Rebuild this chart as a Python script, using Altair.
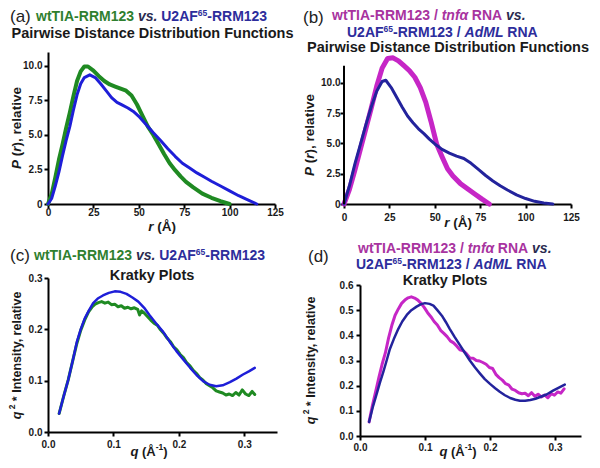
import altair as alt
import pandas as pd

# ---------------- data ----------------
# (a) P(r) curves
r_a_green = [0, 2, 4, 6, 8, 10, 12, 14, 16, 18, 20, 22, 25, 28, 31, 34, 37, 40, 43, 46, 49, 52, 55, 58, 61, 64, 67, 70, 73, 76, 80, 85, 90, 95, 100]
p_a_green = [0, 0.7, 1.9, 3.2, 4.3, 5.5, 6.6, 7.8, 8.9, 9.6, 9.95, 9.95, 9.65, 9.25, 8.9, 8.65, 8.5, 8.35, 8.2, 7.85, 7.2, 6.4, 5.6, 5.0, 4.3, 3.6, 2.95, 2.45, 2.0, 1.6, 1.2, 0.75, 0.45, 0.2, 0]
r_a_blue = [0, 2, 4, 6, 8, 10, 12, 14, 16, 18, 20, 23, 26, 29, 32, 35, 38, 41, 44, 47, 50, 54, 58, 62, 66, 70, 74, 78, 82, 86, 90, 95, 100, 105, 110, 115]
p_a_blue = [0, 0.4, 1.3, 2.3, 3.5, 4.6, 5.6, 6.8, 7.9, 8.7, 9.15, 9.35, 9.15, 8.7, 8.2, 7.7, 7.35, 7.15, 6.95, 6.7, 6.35, 5.75, 5.15, 4.6, 4.0, 3.45, 2.95, 2.6, 2.25, 1.95, 1.65, 1.3, 0.95, 0.6, 0.3, 0]

# (b) P(r) curves with RNA
r_b_mag = [0, 3, 6, 9, 12, 15, 18, 21, 24, 27, 30, 33, 36, 39, 42, 45, 48, 51, 54, 57, 60, 64, 68, 72, 76, 80]
p_b_mag = [0, 1.2, 2.8, 4.5, 6.2, 7.9, 9.7, 11.2, 12.0, 12.05, 11.8, 11.4, 11.0, 10.45, 9.6, 8.4, 6.75, 4.95, 3.9, 2.9, 2.3, 1.7, 1.25, 0.82, 0.4, 0]
r_b_blue = [0, 3, 6, 9, 12, 15, 18, 21, 23, 26, 29, 32, 35, 38, 41, 44, 47, 50, 54, 58, 62, 66, 70, 74, 78, 82, 86, 90, 95, 100, 105, 110, 115]
p_b_blue = [0, 1.5, 3.3, 4.9, 6.5, 8.0, 9.3, 10.1, 10.2, 9.6, 8.8, 8.0, 7.25, 6.7, 6.2, 5.8, 5.35, 4.95, 4.5, 4.2, 3.95, 3.75, 3.35, 2.85, 2.35, 1.9, 1.5, 1.15, 0.75, 0.45, 0.22, 0.08, 0]

# (c) Kratky curves
q_c_green = [0.017, 0.024, 0.031, 0.038, 0.044, 0.05, 0.056, 0.062, 0.067, 0.072, 0.077, 0.082, 0.087, 0.092, 0.097, 0.102, 0.107, 0.112, 0.117, 0.122,
             0.127, 0.132, 0.137, 0.14, 0.143, 0.147, 0.152, 0.157, 0.162, 0.167, 0.172, 0.177, 0.182, 0.187, 0.192, 0.197, 0.202, 0.207, 0.212, 0.217,
             0.222, 0.227, 0.232, 0.237, 0.242, 0.247, 0.252, 0.257, 0.262, 0.267, 0.272, 0.277, 0.282, 0.287, 0.292, 0.297, 0.302, 0.307, 0.312, 0.316]
i_c_green = [0.036, 0.07, 0.102, 0.14, 0.172, 0.198, 0.218, 0.234, 0.243, 0.249, 0.252, 0.254, 0.251, 0.253, 0.248, 0.249, 0.244, 0.246, 0.241, 0.243,
             0.24, 0.242, 0.239, 0.228, 0.236, 0.232, 0.225, 0.218, 0.212, 0.208, 0.199, 0.192, 0.183, 0.176, 0.166, 0.16, 0.151, 0.145, 0.135, 0.129,
             0.12, 0.114, 0.106, 0.101, 0.094, 0.09, 0.086, 0.08, 0.078, 0.076, 0.072, 0.074, 0.071, 0.077, 0.072, 0.082, 0.074, 0.071, 0.079, 0.073]
q_c_blue = [0.017, 0.024, 0.031, 0.038, 0.044, 0.05, 0.056, 0.063, 0.069, 0.076, 0.084, 0.093, 0.102, 0.111, 0.12, 0.129, 0.138, 0.147, 0.155, 0.165,
            0.176, 0.186, 0.196, 0.207, 0.217, 0.227, 0.237, 0.247, 0.257, 0.267, 0.278, 0.288, 0.298, 0.307, 0.316]
i_c_blue = [0.036, 0.07, 0.102, 0.14, 0.175, 0.2, 0.221, 0.238, 0.251, 0.26, 0.266, 0.271, 0.274, 0.273, 0.269, 0.262, 0.254, 0.242, 0.228, 0.212,
            0.195, 0.176, 0.158, 0.141, 0.1255, 0.111, 0.099, 0.092, 0.089, 0.091, 0.097, 0.104, 0.112, 0.118, 0.125]

# (d) Kratky curves with RNA
q_d_mag = [0.014, 0.019, 0.024, 0.029, 0.034, 0.039, 0.044, 0.049, 0.054, 0.059, 0.064, 0.069, 0.074, 0.079, 0.084, 0.089, 0.094, 0.099, 0.104, 0.109,
           0.114, 0.119, 0.124, 0.129, 0.134, 0.139, 0.144, 0.149, 0.154, 0.159, 0.164, 0.169, 0.174, 0.179, 0.184, 0.189, 0.194, 0.199, 0.204, 0.209,
           0.214, 0.219, 0.224, 0.229, 0.234, 0.239, 0.244, 0.249, 0.254, 0.259, 0.264, 0.269, 0.274, 0.279, 0.284, 0.289, 0.294, 0.299, 0.304, 0.309, 0.314]
i_d_mag = [0.056, 0.12, 0.175, 0.232, 0.285, 0.33, 0.39, 0.44, 0.48, 0.505, 0.527, 0.54, 0.549, 0.553, 0.548, 0.54, 0.527, 0.51, 0.49, 0.474,
           0.455, 0.441, 0.42, 0.408, 0.395, 0.378, 0.37, 0.357, 0.342, 0.338, 0.326, 0.31, 0.309, 0.3, 0.298, 0.292, 0.285, 0.272, 0.268, 0.245,
           0.232, 0.222, 0.208, 0.202, 0.186, 0.181, 0.172, 0.168, 0.17, 0.16, 0.172, 0.158, 0.166, 0.155, 0.163, 0.152, 0.168, 0.162, 0.175, 0.17, 0.187]
q_d_blue = [0.014, 0.02, 0.026, 0.031, 0.036, 0.041, 0.046, 0.052, 0.059, 0.065, 0.072, 0.079, 0.087, 0.094, 0.1, 0.107, 0.113, 0.119, 0.126, 0.132,
            0.138, 0.146, 0.154, 0.162, 0.169, 0.177, 0.185, 0.192, 0.2, 0.208, 0.215, 0.223, 0.231, 0.239, 0.246, 0.254, 0.262, 0.27, 0.277, 0.287,
            0.297, 0.306, 0.315]
i_d_blue = [0.056, 0.118, 0.17, 0.215, 0.256, 0.3, 0.346, 0.385, 0.426, 0.455, 0.481, 0.5, 0.514, 0.524, 0.528, 0.525, 0.518, 0.5, 0.478, 0.453,
            0.426, 0.392, 0.36, 0.328, 0.3, 0.272, 0.247, 0.226, 0.207, 0.19, 0.176, 0.162, 0.151, 0.144, 0.14, 0.14, 0.143, 0.148, 0.155, 0.165,
            0.18, 0.192, 0.204]

pr_ticks = [0, 25, 50, 75, 100, 125]
p_ticks = [0, 2.5, 5, 7.5, 10]
q_ticks = [0, 0.1, 0.2, 0.3]
kc_ticks = [0, 0.1, 0.2, 0.3]
kd_ticks = [0, 0.1, 0.2, 0.3, 0.4, 0.5, 0.6]

# ---------------- styling ----------------
FONT = "Liberation Sans"
GREEN = "#1f8a22"
BLUE_A = "#1e1ed8"
BLUE_B = "#23239c"
MAG = "#c626c6"
T_GREEN = "#2f7f2f"
T_BLUE = "#2d2d9c"
T_MAG = "#a8339f"
T_VS = "#2b2b50"
INK = "#1a1a1a"

ONE = pd.DataFrame({"k": [0]})

WID = {' ': 278, '(': 333, ')': 333, '-': 333, '.': 278, '/': 278, ',': 278, '*': 389,
       'A': 722, 'F': 611, 'I': 278, 'L': 611, 'M': 833, 'N': 722, 'R': 722, 'T': 611, 'U': 722,
       'P': 667, 'Å': 722, 'd': 611, 'f': 333, 'n': 611, 's': 556, 't': 333, 'v': 556, 'w': 778,
       'r': 389, 'e': 556, 'l': 278, 'a': 556, 'i': 278, 'q': 611, 'y': 556, 'α': 600}


def twidth(s, size):
    return sum(WID.get(c, 556) for c in s) * size / 1000.0


def text_at(txt, x, y, color=INK, size=14, weight="bold", italic=False, align="left",
            dy=0, angle=0):
    return alt.Chart(ONE).mark_text(
        text=txt, color=color, font=FONT, fontSize=size, fontWeight=weight,
        fontStyle="italic" if italic else "normal", align=align, baseline="middle",
        dy=dy, angle=angle
    ).encode(x=alt.value(x), y=alt.value(y))


def seg_fields(seg):
    txt, color = seg[0], seg[1]
    italic = seg[2] if len(seg) > 2 else False
    size = seg[3] if len(seg) > 3 else 14
    shift = seg[4] if len(seg) > 4 else 0
    return txt, color, italic, size, shift


def text_line(segments, x0, y):
    """Horizontal run of styled pieces starting at x0 (left)."""
    out, x = [], x0
    for seg in segments:
        txt, color, italic, size, shift = seg_fields(seg)
        lead = len(txt) - len(txt.lstrip(' '))
        core = txt.strip(' ')
        out.append(text_at(core, x + twidth(' ' * lead, size), y, color=color, size=size,
                           italic=italic, dy=-shift))
        x += twidth(txt, size)
    return out


def text_line_centered(segments, xc, y):
    total = sum(twidth(seg_fields(s)[0], seg_fields(s)[3]) for s in segments)
    return text_line(segments, xc - total / 2.0, y)


def text_vertical(segments, x, yc):
    """Run of styled pieces rotated 270 degrees, centred at yc."""
    total = sum(twidth(seg_fields(s)[0], seg_fields(s)[3]) for s in segments)
    out, y = [], yc + total / 2.0
    for seg in segments:
        txt, color, italic, size, shift = seg_fields(seg)
        lead = len(txt) - len(txt.lstrip(' '))
        core = txt.strip(' ')
        out.append(text_at(core, x, y - twidth(' ' * lead, size), color=color, size=size,
                           italic=italic, dy=-shift, angle=270))
        y -= twidth(txt, size)
    return out


def anchor(x, y, align, baseline):
    return alt.Chart(ONE).mark_text(text=".", fontSize=1, opacity=0, align=align, baseline=baseline
                                    ).encode(x=alt.value(x), y=alt.value(y))


AX = dict(grid=False, domainColor="black", domainWidth=2, tickColor="black", tickWidth=2, tickSize=4,
          labelFont=FONT, labelFontWeight="bold", labelFontSize=10, labelColor=INK,
          labelFlush=False, labelOverlap=False, title=None)


def axis(values, lp, fmt=None, domain=True, expr=None, count=None):
    kw = dict(AX)
    kw.update(values=values, labelPadding=lp, domain=domain)
    if fmt:
        kw["format"] = fmt
    if expr:
        kw["labelExpr"] = expr
    if count:
        kw["tickCount"] = count
    return alt.Axis(**kw)


def lines(series, xdom, ydom, xax, yax):
    out = []
    for xs, ys, color, sw in series:
        df = pd.DataFrame({"x": xs, "y": ys})
        out.append(alt.Chart(df).mark_line(color=color, strokeWidth=sw, strokeJoin="round", strokeCap="round").encode(
            x=alt.X("x:Q", scale=alt.Scale(domain=xdom, nice=False, zero=False), axis=xax),
            y=alt.Y("y:Q", scale=alt.Scale(domain=ydom, nice=False, zero=False), axis=yax),
            order=alt.Order("x:Q"),
        ))
    return out


# "0" for zero, one decimal otherwise; a trailing no-break space keeps every label distinct text
NB = "\u00a0"
PEXPR = "datum.value == 0 ? '0" + NB + "' : format(datum.value, '.1f') + '" + NB + "'"

PR_TITLE = [("P", INK, True, 13.5), (" (", INK, False, 13.5), ("r", INK, True, 13.5), ("), relative", INK, False, 13.5)]
R_TITLE = [("r", INK, True, 13.5), (" (Å)", INK, False, 13.5)]
Q_TITLE = [("q", INK, True, 13), (" (Å", INK, False, 13), ("-1", INK, False, 8.5, 5), (")", INK, False, 13)]
K_TITLE = [("q", INK, True, 12.5), (" 2", INK, False, 8.5, 5), (" * Intensity, relative", INK, False, 12.5)]

LINE_PLAIN = [("wtTIA-RRM123", T_GREEN), (" vs. ", T_VS, True), ("U2AF", T_BLUE),
              ("65", T_BLUE, False, 8.5, 4.5), ("-RRM123", T_BLUE)]
LINE_RNA1 = [("wtTIA-RRM123 / ", T_MAG), ("tnfα", T_MAG, True), (" RNA ", T_MAG), ("vs.", T_VS, True)]
LINE_RNA2 = [("U2AF", T_BLUE), ("65", T_BLUE, False, 8.5, 4.5), ("-RRM123 / ", T_BLUE),
             ("AdML", T_BLUE, True), (" RNA", T_BLUE)]

# ---------------- panel (a) ----------------
a_layers = lines(
    [(r_a_green, p_a_green, GREEN, 4), (r_a_blue, p_a_blue, BLUE_A, 3)],
    [0, 125], [0, 11],
    axis(pr_ticks, -1, fmt="d"),
    axis(p_ticks, 2, fmt=".1f", expr=PEXPR, count=10),
)
a_layers += [text_at("(a)", -38, -35, color="#222", size=17, weight="normal")]
a_layers += text_line(LINE_PLAIN, -12, -35)
a_layers += [text_at("Pairwise Distance Distribution Functions", 104.5, -18, size=14.5, align="center")]
a_layers += text_vertical(PR_TITLE, -31, 76)
a_layers += text_line_centered(R_TITLE, 114, 175)
a_layers += [anchor(-38, -44, "left", "top"), anchor(254, 0, "right", "top"), anchor(0, 186, "left", "bottom")]
panel_a = alt.layer(*a_layers).properties(width=227, height=152)

# ---------------- panel (b) ----------------
b_layers = lines(
    [(r_b_mag, p_b_mag, MAG, 5), (r_b_blue, p_b_blue, BLUE_B, 3)],
    [0, 125], [0, 12.53],
    axis(pr_ticks, 4, fmt="d"),
    axis(p_ticks, 0, fmt=".1f", domain=False, expr=PEXPR, count=10),
)
b_layers += [alt.Chart(ONE).mark_rule(color="black", strokeWidth=2).encode(
    x=alt.value(0), y=alt.datum(0), y2=alt.datum(11.4))]
b_layers += [text_at("(b)", -41, -34, color="#222", size=17, weight="normal")]
b_layers += text_line(LINE_RNA1, -12, -36)
b_layers += text_line(LINE_RNA2, 3, -19)
b_layers += [text_at("Pairwise Distance Distribution Functions", 104, -4, size=14.5, align="center")]
b_layers += text_vertical(PR_TITLE, -34, 83)
b_layers += text_line_centered(R_TITLE, 114, 171)
b_layers += [anchor(-41.7, -44, "left", "top"), anchor(0, 186, "left", "bottom")]
panel_b = alt.layer(*b_layers).properties(width=227, height=152)

# ---------------- panel (c) ----------------
c_layers = lines(
    [(q_c_green, i_c_green, GREEN, 3), (q_c_blue, i_c_blue, BLUE_A, 2.5)],
    [0, 0.35], [0, 0.3],
    axis(q_ticks, 3, fmt=".1f"),
    axis(kc_ticks, 2, fmt=".1f"),
)
c_layers += [text_at("(c)", -38, -22, color="#222", size=17, weight="normal")]
c_layers += text_line(LINE_PLAIN, -14, -22)
c_layers += [text_at("Kratky Plots", 104, -2, size=14.5, align="center")]
c_layers += text_vertical(K_TITLE, -31, 77)
c_layers += text_line_centered(Q_TITLE, 101, 174)
c_layers += [anchor(-38, -40, "left", "top"), anchor(254, 0, "right", "top")]
panel_c = alt.layer(*c_layers).properties(width=229, height=154)

# ---------------- panel (d) ----------------
d_layers = lines(
    [(q_d_mag, i_d_mag, MAG, 3), (q_d_blue, i_d_blue, BLUE_B, 2.5)],
    [0, 0.34], [0, 0.6],
    axis(q_ticks, 2, fmt=".1f"),
    axis(kd_ticks, 3, fmt=".1f"),
)
d_layers += [text_at("(d)", -52, -28, color="#222", size=17, weight="normal")]
d_layers += text_line(LINE_RNA1, -2, -36)
d_layers += text_line(LINE_RNA2, -4, -20)
d_layers += [text_at("Kratky Plots", 85, -4, size=14.5, align="center")]
d_layers += text_vertical(K_TITLE, -49, 75)
d_layers += text_line_centered(Q_TITLE, 98, 167)
d_layers += [anchor(-56.7, -46.3, "left", "top")]
panel_d = alt.layer(*d_layers).properties(width=221, height=151)

chart = alt.concat(panel_a, panel_b, panel_c, panel_d, columns=2, spacing=0, align="none",
                   padding=0, background="white").configure_view(stroke=None)

chart.save("out.html", embed_options={"renderer": "svg", "actions": False})
